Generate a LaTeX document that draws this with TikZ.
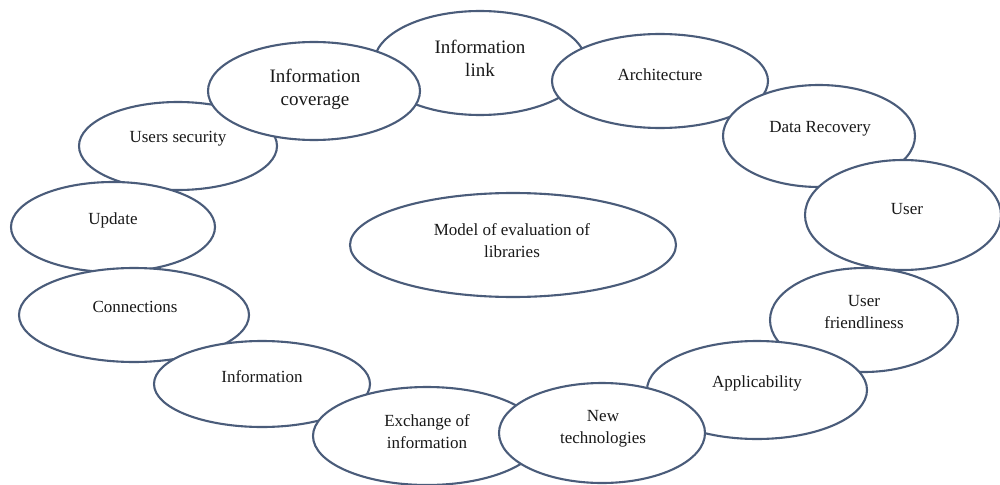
\documentclass[tikz,border=0pt]{standalone}
\usepackage{fontspec}
\setmainfont{Liberation Serif}
\usetikzlibrary{shapes.geometric}
\definecolor{edgeblue}{RGB}{74,92,122}
\tikzset{
  ell/.style={ellipse, draw=edgeblue, line width=2.1pt, fill=white, inner sep=0pt},
  txt/.style={align=center, font=\fontsize{17}{22}\selectfont, inner sep=0pt, text=black!90},
  bigtxt/.style={txt, font=\fontsize{19}{23}\selectfont}
}
\begin{document}
\begin{tikzpicture}[x=1pt,y=-1pt]
\useasboundingbox[fill=white] (0,0) rectangle (1000,484);
% ellipses in stacking order
\node[ell, minimum width=198pt, minimum height=88pt] (us) at (178,146) {};
\node[txt] (tus) at (178,139) {Users security};
\node[ell, minimum width=204pt, minimum height=90pt] (upd) at (113,227) {};
\node[txt] (tupd) at (113,220) {Update};
\node[ell, minimum width=230pt, minimum height=94pt] (conn) at (134,315) {};
\node[txt] (tconn) at (135,307) {Connections};
\node[ell, minimum width=216pt, minimum height=86pt] (info) at (262,384) {};
\node[txt] (tinfo) at (262,377) {Information};
\node[ell, minimum width=212pt, minimum height=104pt] (link) at (480,63) {};
\node[bigtxt] (tlink) at (480,58) {Information\\link};
\node[ell, minimum width=212pt, minimum height=98pt] (cov) at (314,91) {};
\node[bigtxt] (tcov) at (315,89) {Information\\coverage};
\node[ell, minimum width=216pt, minimum height=94pt] (arch) at (660,81) {};
\node[txt] (tarch) at (660,75) {Architecture};
\node[ell, minimum width=192pt, minimum height=102pt] (dr) at (819,136) {};
\node[txt] (tdr) at (820,129) {Data Recovery};
\node[ell, minimum width=188pt, minimum height=104pt] (uf) at (864,320) {};
\node[txt] (tuf) at (864,312) {User\\friendliness};
\node[ell, minimum width=196pt, minimum height=110pt] (user) at (903,215) {};
\node[txt] (tuser) at (907,209) {User};
\node[ell, minimum width=220pt, minimum height=98pt] (app) at (757,390) {};
\node[txt] (tapp) at (757,383) {Applicability};
\node[ell, minimum width=228pt, minimum height=98pt] (exch) at (427,436) {};
\node[txt] (texch) at (427,432) {Exchange of\\information};
\node[ell, minimum width=206pt, minimum height=100pt] (nt) at (602,433) {};
\node[txt] (tnt) at (603,429) {New\\technologies};
\node[ell, minimum width=326pt, minimum height=104pt] (model) at (513,245) {};
\node[txt] (tmodel) at (512,241) {Model of evaluation of\\libraries};
\end{tikzpicture}
\end{document}
